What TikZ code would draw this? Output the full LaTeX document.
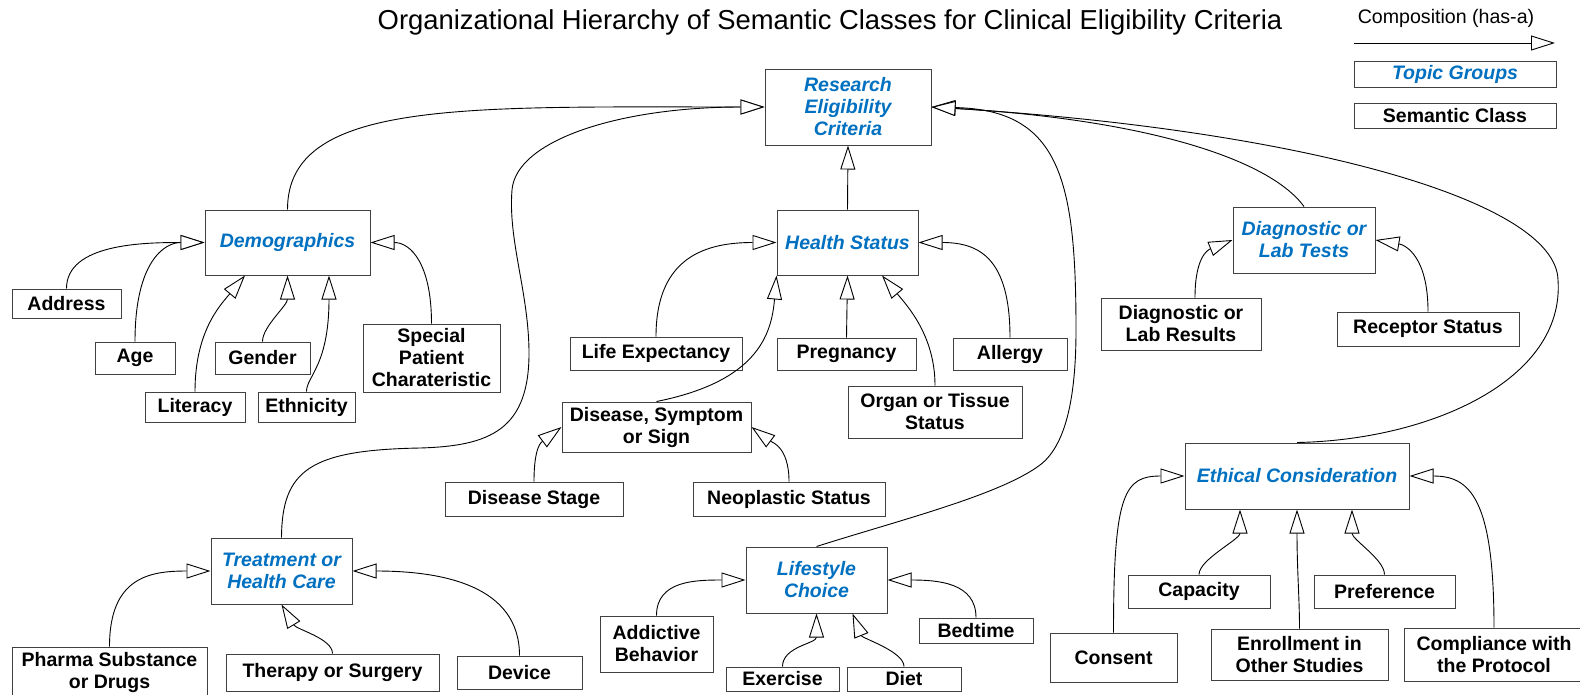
\documentclass[tikz,border=0pt]{standalone}
\usepackage{fontspec}
\setmainfont{Liberation Sans}
\usetikzlibrary{arrows.meta}
\definecolor{topicblue}{RGB}{0,112,192}

\begin{document}
\begin{tikzpicture}[x=1pt,y=-1pt,
  sclass/.style={draw=black!75,line width=1pt,fill=white,inner sep=0pt,align=center,font=\bfseries\fontsize{19.5}{22}\selectfont},
  topic/.style={sclass,text=topicblue,font=\bfseries\itshape\fontsize{19.5}{22}\selectfont},
  box/.style 2 args={minimum width=#1,minimum height=#2},
  hasa/.style={line width=.9pt,-{Triangle[length=24pt,width=15pt,fill=white]}}]
 \useasboundingbox (0,0) rectangle (1580,694);
 \clip (0,0) rectangle (1580,694);
 \node[font=\fontsize{27.4}{32}\selectfont] (title) at (830,22) {Organizational Hierarchy of Semantic Classes for Clinical Eligibility Criteria};
 % legend
 \node[font=\fontsize{19.6}{23}\selectfont] (lgtext) at (1446,18) {Composition (has-a)};
 \coordinate (lgfrom) at (1354,43); \coordinate (lgto) at (1555,43);
 \draw[hasa] (lgfrom) -- (lgto);
 \node[topic,box={202}{26}] (lgtopic) at (1455,74) {Topic Groups};
 \node[sclass,box={202}{25}] (lgclass) at (1455,115.5) {Semantic Class};
 % topic groups
 \node[topic,box={166}{76}] (research) at (848,107) {Research\\Eligibility\\Criteria};
 \node[topic,box={165}{65}] (demo) at (287.5,242.5) {Demographics};
 \node[topic,box={141}{65}] (health) at (847.5,242.5) {Health Status};
 \node[topic,box={142}{66}] (diag) at (1304,240) {Diagnostic or\\Lab Tests};
 \node[topic,box={141}{66}] (treat) at (281.5,571) {Treatment or\\Health Care};
 \node[topic,box={141}{66}] (life) at (816.5,580) {Lifestyle\\Choice};
 \node[topic,box={224}{66}] (ethic) at (1297,476) {Ethical Consideration};
 % semantic classes
 \node[sclass,box={109}{29}] (address) at (66.5,303.5) {Address};
 \node[sclass,box={80}{32}] (age) at (135,358) {Age};
 \node[sclass,box={95}{32}] (gender) at (262.5,358) {Gender};
 \node[sclass,box={137}{68}] (special) at (431.5,358) {Special\\Patient\\Charateristic};
 \node[sclass,box={100}{30}] (literacy) at (195,407) {Literacy};
 \node[sclass,box={97}{30}] (ethnic) at (306.5,407) {Ethnicity};
 \node[sclass,box={172}{33}] (lifeexp) at (656,353.5) {Life Expectancy};
 \node[sclass,box={139}{32}] (preg) at (846.5,354) {Pregnancy};
 \node[sclass,box={114}{32}] (allergy) at (1010,354) {Allergy};
 \node[sclass,box={174}{52}] (organ) at (935,412) {Organ or Tissue\\Status};
 \node[sclass,box={189}{50}] (disease) at (656.5,427) {Disease, Symptom\\or Sign};
 \node[sclass,box={178}{34}] (dstage) at (534,499) {Disease Stage};
 \node[sclass,box={192}{34}] (neo) at (789,499) {Neoplastic Status};
 \node[sclass,box={160}{52}] (dresults) at (1181,324) {Diagnostic or\\Lab Results};
 \node[sclass,box={182}{34}] (receptor) at (1428,329) {Receptor Status};
 \node[sclass,box={195}{50}] (pharma) at (109.5,672) {Pharma Substance\\or Drugs};
 \node[sclass,box={213}{37}] (therapy) at (332.5,672.5) {Therapy or Surgery};
 \node[sclass,box={125}{33}] (device) at (519.5,672.5) {Device};
 \node[sclass,box={113}{56}] (addict) at (656.5,644) {Addictive\\Behavior};
 \node[sclass,box={113}{24}] (exercise) at (782.5,679) {Exercise};
 \node[sclass,box={114}{24}] (diet) at (904,679) {Diet};
 \node[sclass,box={114}{25}] (bedtime) at (976,630.5) {Bedtime};
 \node[sclass,box={127}{49}] (consent) at (1113.5,657.5) {Consent};
 \node[sclass,box={142}{33}] (capacity) at (1199,591.5) {Capacity};
 \node[sclass,box={141}{33}] (pref) at (1384.5,591.5) {Preference};
 \node[sclass,box={177}{51}] (enroll) at (1299.5,654.5) {Enrollment in\\Other Studies};
 \node[sclass,box={180}{53}] (comply) at (1494,654.5) {Compliance with\\the Protocol};
 % groups into the criteria
 \draw[hasa] (health.north) -- (research.south);
 \draw[hasa] (demo.north) .. controls +(0,-110) and +(-300,0) .. (research.west);
 \draw[hasa] (treat.north) .. controls (282,470) and (310,450) .. (420,448)
   .. controls (490,446) and (530,430) .. (529,350)
   .. controls (528,290) and (508,240) .. (512,190)
   .. controls (516,140) and (620,107) .. (research.west);
 \draw[hasa] (life.north) .. controls (900,520) and (1000,495) .. (1040,465)
   .. controls (1065,446) and (1076,400) .. (1076,330)
   .. controls (1076,180) and (1060,110) .. (research.east);
 \draw[hasa] (diag.north) .. controls (1270,160) and (1150,120) .. (research.east);
 \draw[hasa] (ethic.north) .. controls (1430,440) and (1565,380) .. (1558,280)
   .. controls (1556,200) and (1300,130) .. (research.east);
 % demographics
 \draw[hasa] (address.north) .. controls +(0,-45) and +(-60,0) .. (demo.west);
 \draw[hasa] (age.north) .. controls +(0,-80) and +(-40,0) .. (demo.west);
 \draw[hasa] (literacy.north) .. controls +(0,-60) and +(-25,30) .. ([xshift=-42.5]demo.south);
 \draw[hasa] (gender.north) .. controls +(0,-15) and +(0,30) .. (demo.south);
 \draw[hasa] (ethnic.north) .. controls +(0,-15) and +(0,90) .. ([xshift=41.5]demo.south);
 \draw[hasa] (special.north) .. controls +(0,-60) and +(40,0) .. (demo.east);
 % health status
 \draw[hasa] (lifeexp.north) .. controls +(0,-80) and +(-70,0) .. (health.west);
 \draw[hasa] (preg.north) -- (health.south);
 \draw[hasa] (allergy.north) .. controls +(0,-80) and +(60,0) .. (health.east);
 \draw[hasa] (organ.north) .. controls +(0,-50) and +(25,30) .. ([xshift=34.5]health.south);
 \draw[hasa] (disease.north) .. controls +(100,-20) and +(-5,60) .. (health.south west);
 \draw[hasa] (dstage.north) .. controls +(0,-35) and +(-20,15) .. (disease.west);
 \draw[hasa] (neo.north) .. controls +(0,-35) and +(20,15) .. (disease.east);
 % diagnostic
 \draw[hasa] ([xshift=14]dresults.north) .. controls +(0,-40) and +(-25,10) .. (diag.west);
 \draw[hasa] (receptor.north) .. controls +(0,-55) and +(30,5) .. (diag.east);
 % treatment
 \draw[hasa] (pharma.north) .. controls +(0,-70) and +(-60,0) .. (treat.west);
 \draw[hasa] (therapy.north) .. controls +(0,-15) and +(15,25) .. (treat.south);
 \draw[hasa] (device.north) .. controls +(0,-70) and +(90,0) .. (treat.east);
 % lifestyle
 \draw[hasa] (addict.north) .. controls +(0,-35) and +(-50,0) .. (life.west);
 \draw[hasa] (exercise.north) .. controls +(0,-20) and +(0,30) .. (life.south);
 \draw[hasa] (diet.north) .. controls +(0,-15) and +(10,25) .. ([xshift=36]life.south);
 \draw[hasa] (bedtime.north) .. controls +(0,-35) and +(50,0) .. (life.east);
 % ethical
 \draw[hasa] (consent.north) .. controls +(0,-140) and +(-60,0) .. (ethic.west);
 \draw[hasa] (capacity.north) .. controls +(0,-15) and +(0,30) .. ([xshift=-57]ethic.south);
 \draw[hasa] (enroll.north) .. controls +(0,-30) and +(0,60) .. (ethic.south);
 \draw[hasa] (pref.north) .. controls +(0,-15) and +(0,30) .. ([xshift=55]ethic.south);
 \draw[hasa] (comply.north) .. controls +(0,-130) and +(60,0) .. (ethic.east);
\end{tikzpicture}
\end{document}
